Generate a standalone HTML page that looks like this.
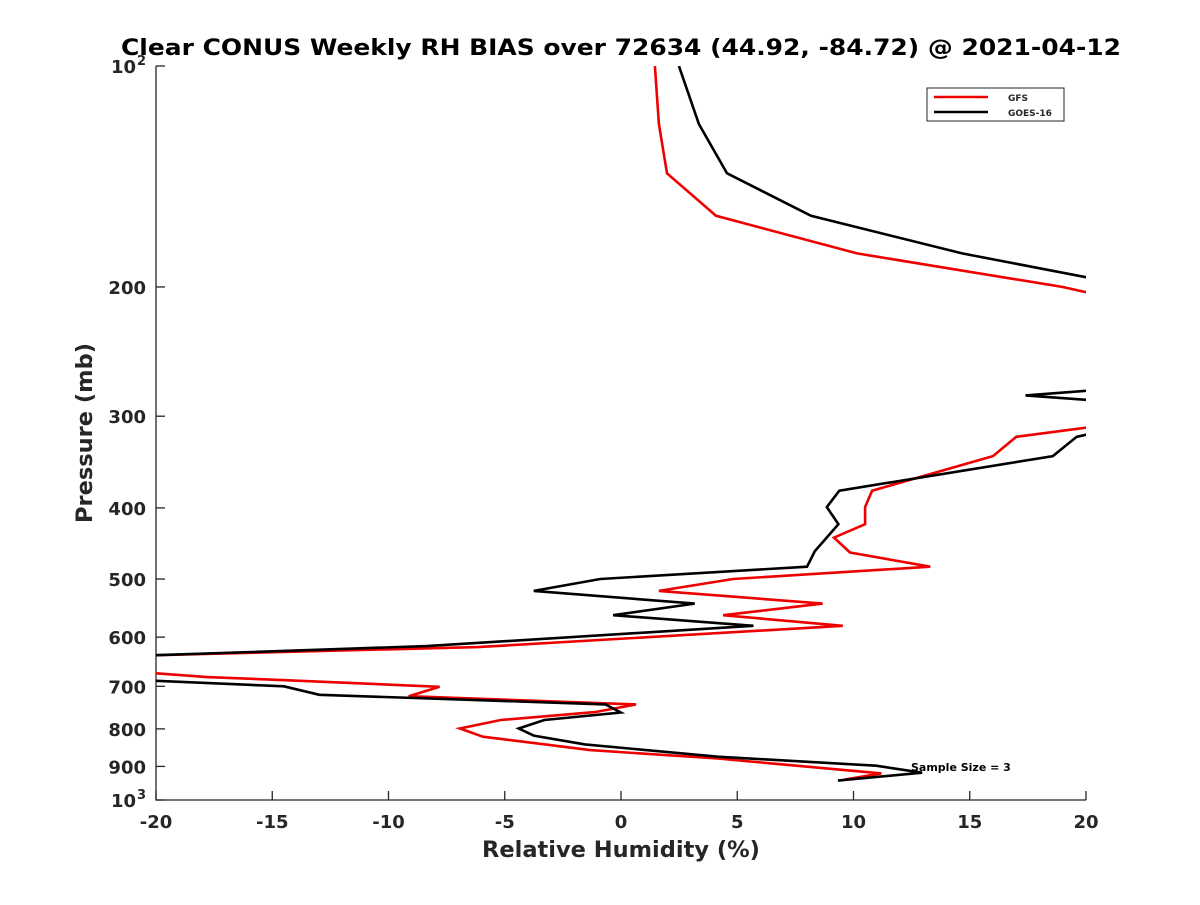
<!DOCTYPE html>
<html><head><meta charset="utf-8"><style>
body{margin:0;background:#fff;}
svg text{font-family:"DejaVu Sans","Liberation Sans",sans-serif;font-weight:bold;fill:#262626;}
</style></head><body>
<svg id="chart" width="1200" height="900" xmlns="http://www.w3.org/2000/svg">
<rect width="1200" height="900" fill="#fff"/>
<defs><clipPath id="clip"><rect x="156" y="66" width="930" height="734"/></clipPath></defs>
<text x="621" y="55" font-size="22.5" text-anchor="middle" style="fill:#000" textLength="1000" lengthAdjust="spacingAndGlyphs">Clear CONUS Weekly RH BIAS over 72634 (44.92, -84.72) @ 2021-04-12</text>
<g id="axes"></g>
<g id="series" clip-path="url(#clip)"></g>
<text x="621" y="857" font-size="22.5" text-anchor="middle">Relative Humidity (%)</text>
<text transform="translate(92,433) rotate(-90)" font-size="22.5" text-anchor="middle">Pressure (mb)</text>
<g>
<rect x="927" y="88" width="137" height="33" fill="#fff" stroke="#262626" stroke-width="1"/>
<line x1="934" y1="97" x2="988" y2="97" stroke="#e00" stroke-width="2.5"/>
<text x="1008" y="101" font-size="9">GFS</text>
<line x1="934" y1="112" x2="988" y2="112" stroke="#000" stroke-width="2.5"/>
<text x="1008" y="116" font-size="9">GOES-16</text>
</g>
<text x="911" y="771" font-size="11" style="fill:#000">Sample Size = 3</text>
</svg>
<script>
const xTicks = [-20,-15,-10,-5,0,5,10,15,20];
const yTicks = [100,200,300,400,500,600,700,800,900,1000];
const yTickLabels = ["10","200","300","400","500","600","700","800","900","10"];
const yTickSup = ["2","","","","","","","","","3"];
const gfsP = [100,120,140,160,180,200,210,225,250,275,300,311,320,340,379,399,421,439,460,481,500,519,540,560,579,619,635,650,672,680,686,701,722,741,759,778,799,820,855,878,920,938];
const gfsX = [1.46,1.63,1.98,4.09,10.15,19.0,22,28,30,30,25,20,17.0,16.0,10.8,10.5,10.5,9.16,9.85,13.3,4.82,1.63,8.67,4.39,9.54,-6.16,-20,-30,-20,-17.8,-14.7,-7.8,-9.13,0.65,-1.12,-5.17,-6.93,-5.94,-1.33,4.16,11.2,9.6];
const goesP = [100,120,140,160,180,194,210,240,274,281,288,300,318,320,340,379,399,421,458,481,500,519,540,560,579,617,635,660,688,700,719,741,760,778,799,817,840,873,898,918,941];
const goesX = [2.49,3.35,4.56,8.17,14.67,20,25,30,22,17.4,22,25,20,19.6,18.57,9.39,8.85,9.35,8.34,8.0,-0.89,-3.75,3.17,-0.34,5.7,-8.36,-20,-30,-20,-14.5,-12.97,-0.67,-0.01,-3.3,-4.4,-3.75,-1.55,4.16,10.97,12.95,9.33];
const X0=156,X1=1086,Y0=66,Y1=800;
function sx(v){return X0+(v+20)/40*(X1-X0);}
function sy(p){return Y0+(Math.log10(p)-2)*(Y1-Y0);}
const NS="http://www.w3.org/2000/svg";
const axes=document.getElementById('axes');
function mk(tag,attrs,parent){const e=document.createElementNS(NS,tag);for(const k in attrs)e.setAttribute(k,attrs[k]);parent.appendChild(e);return e;}
const ax=mk('path',{d:`M${X0},${Y0}V${Y1}H${X1}`,fill:'none',stroke:'#262626','stroke-width':1.3},axes);


xTicks.forEach(v=>{
  const x=sx(v);
  mk('line',{x1:x,y1:Y1,x2:x,y2:Y1-9,stroke:'#262626','stroke-width':1.3},axes);
  const t=mk('text',{x:x,y:828,'font-size':18,'text-anchor':'middle'},axes);
  t.textContent=v;
  
  
});
yTicks.forEach((p,i)=>{
  const y=sy(p);
  mk('line',{x1:X0,y1:y,x2:X0+9,y2:y,stroke:'#262626','stroke-width':1.3},axes);
  const sup=yTickSup[i];
  const t=mk('text',{x:sup?136:146,y:y+7,'font-size':18,'text-anchor':'end'},axes);
  t.textContent=yTickLabels[i];
  
  
  if(sup){
    const s=mk('text',{x:137,y:y-1,'font-size':13,'text-anchor':'start'},axes);
    s.textContent=sup;
    
    
  }
});
const series=document.getElementById('series');
function line(xs,ps,color,name){
  const d=xs.map((v,i)=>(i?'L':'M')+sx(v).toFixed(1)+','+sy(ps[i]).toFixed(1)).join('');
  const e=mk('path',{d:d,fill:'none',stroke:color,'stroke-width':2.6,'stroke-linejoin':'miter'},series);
  
  
}
line(gfsX,gfsP,'#e00','gfs-line');
line(goesX,goesP,'#000','goes16-line');
</script>
</body></html>
